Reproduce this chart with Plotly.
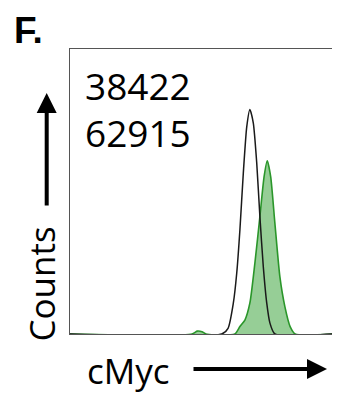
import plotly.graph_objects as go

# Histogram data (x: fluorescence, arbitrary units 0-100; y: % of axis height)
iso_x = [0, 57.7, 60.1, 62.1, 63.4, 64.6, 65.9, 67.2, 68.4, 69.7, 71.0, 72.2, 73.5, 74.8, 76.0, 77.9, 100]
iso_y = [0, 0, 2.0, 10.8, 21.4, 36.5, 56.5, 72.7, 78.8, 74.0, 60.0, 41.2, 23.6, 10.9, 3.9, 0, 0]

cmyc_x = [0, 46.4, 48.3, 50.2, 51.7, 62.7, 64.6, 66.5, 68.4, 70.3, 72.2, 73.8, 75.0, 76.3, 77.9, 79.8, 81.7, 83.7, 85.6, 100]
cmyc_y = [0, 0, 1.0, 0.8, 0, 0, 2.6, 4.9, 10.9, 24.9, 41.2, 55.2, 60.8, 55.2, 38.9, 20.1, 9.6, 2.6, 0, 0]

mfi_labels = ["38422", "62915"]
panel_label = "F."
x_title = "cMyc"
y_title = "Counts"

FONT = "Open Sans"

fig = go.Figure()
fig.add_trace(go.Scatter(
    x=cmyc_x, y=cmyc_y, mode="lines", line=dict(color="#2a962a", width=1.6, shape="spline", smoothing=0.6),
    fill="tozeroy", fillcolor="rgb(150,206,150)", hoverinfo="skip", showlegend=False))
fig.add_trace(go.Scatter(
    x=iso_x, y=iso_y, mode="lines", line=dict(color="#1a1a1a", width=1.5, shape="spline", smoothing=0.6),
    hoverinfo="skip", showlegend=False))

fig.update_xaxes(range=[0, 100], showgrid=False, zeroline=False, showticklabels=False, ticks="",
                 showline=True, mirror=True, linecolor="#555555", linewidth=1)
fig.update_yaxes(range=[0, 100], showgrid=False, zeroline=False, showticklabels=False, ticks="",
                 showline=True, mirror=True, linecolor="#555555", linewidth=1)

# page body has an 8px default margin, so the figure is shifted by 8px
OFF = 8
W, H = 340 - OFF, 406 - OFF
L, R, T, B = 70 - OFF, 7, 49 - OFF, 72
pw, ph = W - L - R, H - T - B

def px(xp):
    return (xp - OFF - L) / pw

def py(yp):
    return (H - B - (yp - OFF)) / ph

ann = []
ann.append(dict(x=px(13), y=py(8.5), xref="paper", yref="paper", text="<b>%s</b>" % panel_label,
                showarrow=False, xanchor="left", yanchor="top", borderpad=0,
                font=dict(family="Liberation Sans", size=37, color="black")))
ann.append(dict(x=px(83), y=py(86), xref="paper", yref="paper", text=mfi_labels[0],
                showarrow=False, xanchor="left", yanchor="middle", font=dict(family=FONT, size=37, color="black")))
ann.append(dict(x=px(83), y=py(132), xref="paper", yref="paper", text=mfi_labels[1],
                showarrow=False, xanchor="left", yanchor="middle", font=dict(family=FONT, size=37, color="black")))
ann.append(dict(x=px(40.5), y=py(284), xref="paper", yref="paper", text=y_title, textangle=-90,
                showarrow=False, xanchor="center", yanchor="middle", font=dict(family=FONT, size=35, color="black")))
ann.append(dict(x=px(128), y=py(370), xref="paper", yref="paper", text=x_title,
                showarrow=False, xanchor="center", yanchor="middle", font=dict(family=FONT, size=35, color="black")))
# arrows
ann.append(dict(x=px(46.7), y=py(93), xref="paper", yref="paper", text="", showarrow=True,
                ax=0, ay=114, arrowhead=2, arrowsize=1, arrowwidth=4, arrowcolor="black"))
ann.append(dict(x=px(327), y=py(369), xref="paper", yref="paper", text="", showarrow=True,
                ax=-135, ay=0, arrowhead=2, arrowsize=1, arrowwidth=4, arrowcolor="black"))

fig.update_layout(width=W, height=H, margin=dict(l=L, r=R, t=T, b=B, pad=0),
                  plot_bgcolor="white", paper_bgcolor="white", annotations=ann)

fig.write_html("out.html")
